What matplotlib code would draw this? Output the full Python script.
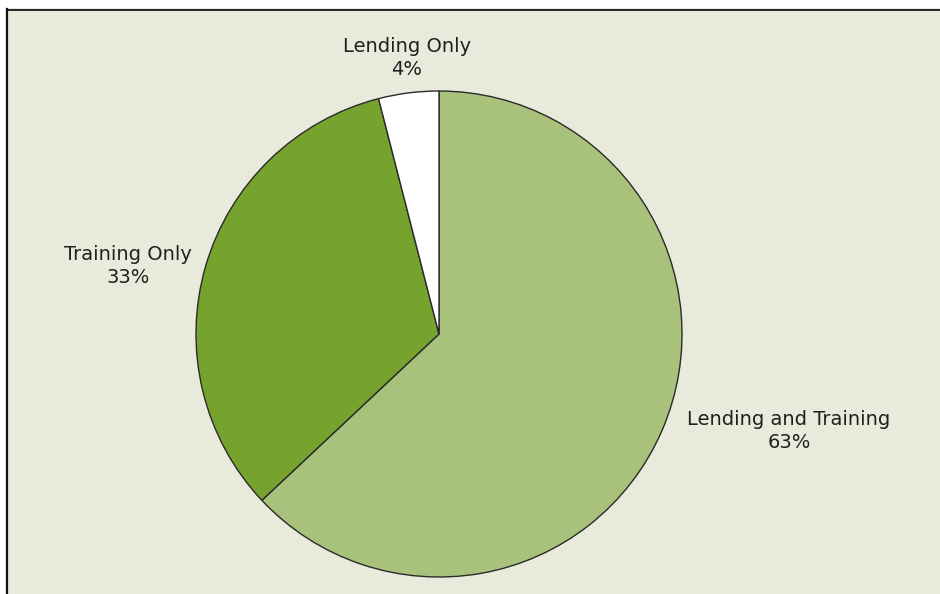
import matplotlib.pyplot as plt
from matplotlib.patches import Rectangle
from matplotlib.lines import Line2D

# Data
categories = ['Lending and Training', 'Training Only', 'Lending Only']
shares = [63, 33, 4]
colors = ['#a8c27c', '#76a22e', '#ffffff']

W, H = 940, 594
fig = plt.figure(figsize=(W / 100, H / 100), dpi=100, facecolor='white')

# panel background and borders
bg = '#e8eadb'
fig.patches.append(Rectangle((8 / W, 0), 1 - 8 / W, (H - 10) / H,
                             transform=fig.transFigure, facecolor=bg,
                             edgecolor='none', zorder=0))
fig.lines.append(Line2D([7 / W, 1], [(H - 8.5) / H] * 2, transform=fig.transFigure,
                        color='#8a8a8a', lw=1.0))
fig.lines.append(Line2D([7 / W, 1], [(H - 9.8) / H] * 2, transform=fig.transFigure,
                        color='#1a1a1a', lw=1.3))
fig.lines.append(Line2D([7.5 / W] * 2, [0, (H - 9) / H], transform=fig.transFigure,
                        color='#111111', lw=1.6))

# pie axes
cx, cy, r = 439, 334, 243
ax = fig.add_axes([(cx - r) / W, (H - cy - r) / H, 2 * r / W, 2 * r / H], zorder=5)
ax.pie(shares, colors=colors, startangle=90, counterclock=False,
       wedgeprops=dict(edgecolor='#2a2a2a', linewidth=1.0))
ax.set_xlim(-1, 1)
ax.set_ylim(-1, 1)
ax.set_aspect('equal')
ax.axis('off')

# labels
label_pos = [(789, 431), (128, 266), (407, 58)]
for name, pct, (x, y) in zip(categories, shares, label_pos):
    fig.text(x / W, 1 - y / H, f'{name}\n{pct}%', ha='center', va='center',
             fontsize=14, color='#231f20', linespacing=1.25,
             family='DejaVu Sans', zorder=6)

fig.savefig('out.png', dpi=100, facecolor='white')
